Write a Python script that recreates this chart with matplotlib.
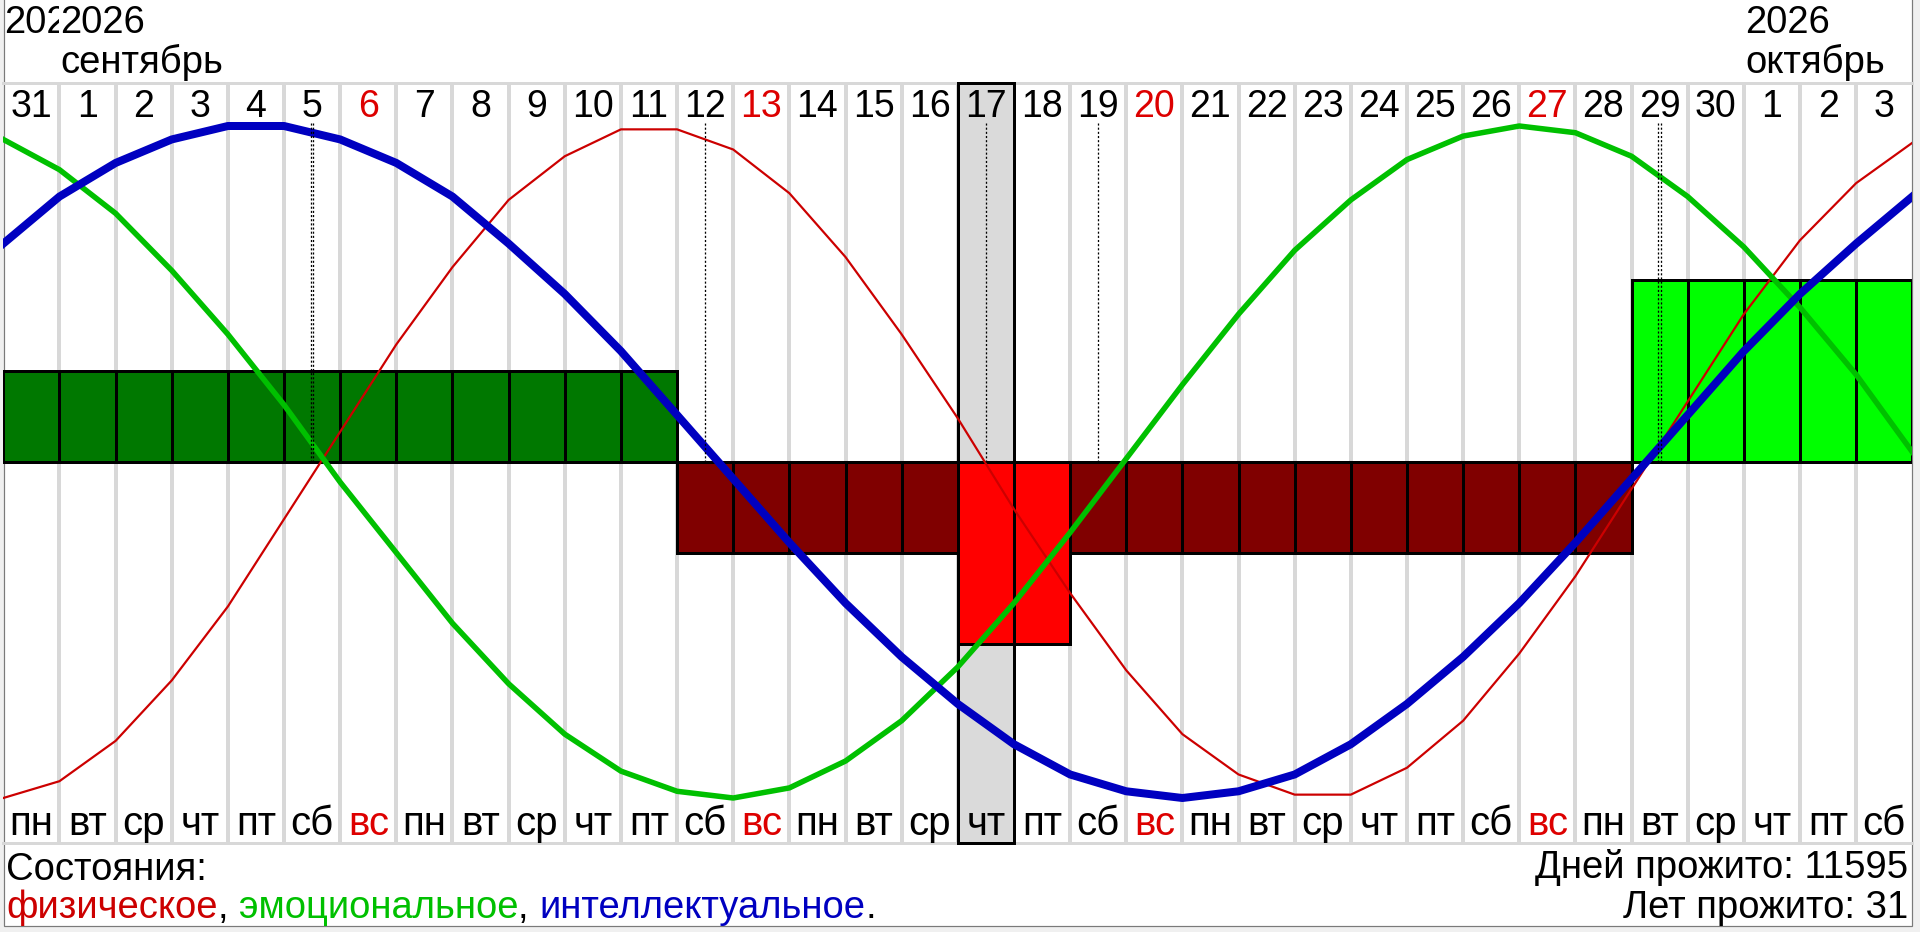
import numpy as np
import matplotlib.pyplot as plt
from matplotlib.patches import Rectangle
from matplotlib.transforms import Bbox, TransformedBbox

plt.rcParams['font.family'] = ['Liberation Sans', 'DejaVu Sans']

W, H = 1920, 932

# days shown: 31 Aug .. 3 Oct 2026
days = [31, 1, 2, 3, 4, 5, 6, 7, 8, 9, 10, 11, 12, 13, 14, 15, 16, 17,
        18, 19, 20, 21, 22, 23, 24, 25, 26, 27, 28, 29, 30, 1, 2, 3]
weekdays = ['пн', 'вт', 'ср', 'чт', 'пт', 'сб', 'вс',
            'пн', 'вт', 'ср', 'чт', 'пт', 'сб', 'вс',
            'пн', 'вт', 'ср', 'чт', 'пт', 'сб', 'вс',
            'пн', 'вт', 'ср', 'чт', 'пт', 'сб', 'вс',
            'пн', 'вт', 'ср', 'чт', 'пт', 'сб']
today = 17  # column of 17 September

# month headers: column, year, month name
head_cols = [0, 1, 31]
head_years = ['2026', '2026', '2026']
head_months = ['', 'сентябрь', 'октябрь']

# biorhythms in percent, one value per day boundary (35 points)
physical = [-100, -95, -83, -65, -43, -17, 9, 35, 58, 78, 91, 99, 99, 93,
            80, 61, 38, 13, -14, -39, -62, -81, -93, -99, -99, -91, -77,
            -57, -34, -8, 18, 44, 66, 83, 95]
emotional = [96, 87, 74, 57, 38, 17, -6, -27, -48, -66, -81, -92, -98, -100,
             -97, -89, -77, -61, -42, -21, 1, 23, 44, 63, 78, 90, 97, 100,
             98, 91, 79, 64, 46, 26, 3]
intellectual = [65, 79, 89, 96, 100, 100, 96, 89, 79, 65, 50, 33, 14, -5,
                -24, -42, -58, -72, -84, -93, -98, -100, -98, -93, -84, -72,
                -58, -42, -24, -5, 14, 33, 50, 65, 79]

# overall state per day
state = [1, 1, 1, 1, 1, 1, 1, 1, 1, 1, 1, 1, -1, -1, -1, -1, -1, -2, -2,
         -1, -1, -1, -1, -1, -1, -1, -1, -1, -1, 2, 2, 2, 2, 2]
state_colors = {2: '#00ff00', 1: '#007800', -1: '#800000', -2: '#ff0000'}

# critical days (number of curves crossing zero that day)
crit_cols = [5, 12, 17, 19, 29]
crit_count = [2, 1, 1, 1, 2]

days_lived = 11595
years_lived = 31

PX = 0.72  # points per pixel at dpi 100
amp = 336.0  # pixels for 100 %
base = 462.0
top, bottom = 83.0, 843.0


def val(ypx):
    return (base - ypx) / amp * 100


fig = plt.figure(figsize=(W / 100, H / 100), dpi=100, facecolor='#f0f0f0')
fig.patches.append(Rectangle((3.5 / W, 1 - 925.5 / H), 1908 / W, 940 / H,
                             transform=fig.transFigure, fc='white',
                             ec='#7a7a7a', lw=1.2 * PX, zorder=-5))

x0, x1 = 3.3, 1912.3
ax = fig.add_axes([x0 / W, 1 - bottom / H, (x1 - x0) / W, (bottom - top) / H])
ax.set_xlim(0, len(days))
ax.set_ylim(val(bottom), val(top))
ax.set_facecolor('none')
ax.set_xticks([])
ax.set_yticks([])
for s in ['left', 'right']:
    ax.spines[s].set_visible(False)
for s in ['top', 'bottom']:
    ax.spines[s].set_color('#d8d8d8')
    ax.spines[s].set_linewidth(3 * PX)
    ax.spines[s].set_zorder(1)

# column separators
for k in range(1, len(days)):
    ax.axvline(k, color='#d8d8d8', lw=4 * PX, zorder=1)

# highlighted day
ax.add_patch(Rectangle((today, 0), 1, 1, transform=ax.get_xaxis_transform(),
                       fc='#dadada', ec='black', lw=3 * PX, zorder=2.7,
                       clip_on=False))

# state bars
unit = 91 / amp * 100
xs = np.arange(len(days)) + 0.5
ax.bar(xs, np.array(state) * unit, width=1,
       color=[state_colors[s] for s in state], edgecolor='black',
       linewidth=3 * PX, zorder=3)

# curves
kx = np.arange(len(physical))
ax.plot(kx, physical, color='#cc0000', lw=2.2 * PX, zorder=4)
ax.plot(kx, emotional, color='#00c000', lw=5.5 * PX, zorder=5)
ax.plot(kx, intellectual, color='#0000c0', lw=8 * PX, zorder=6)

# critical day markers
shift = 1.3 / 56.17
for c, n in zip(crit_cols, crit_count):
    offs = [0.0] if n == 1 else [-shift, shift]
    for o in offs:
        ax.plot([c + 0.5 + o] * 2, [val(123), 0], color='black',
                lw=1.3 * PX, dashes=(1.6, 1.6), zorder=7)

# day numbers and weekdays
for i, (d, w) in enumerate(zip(days, weekdays)):
    col = '#dd0000' if w == 'вс' else 'black'
    ax.text(i + 0.5, val(117), str(d), ha='center', va='baseline',
            fontsize=27, color=col, zorder=8)
    ax.text(i + 0.5, val(835), w, ha='center', va='baseline',
            fontsize=29, color=col, zorder=8)

# month headers
for j, (c, y, m) in enumerate(zip(head_cols, head_years, head_months)):
    end = head_cols[j + 1] if j + 1 < len(head_cols) else len(days)
    clip = TransformedBbox(Bbox([[c, -500], [end, 500]]), ax.transData)
    for txt, yb in [(y, 33), (m, 73)]:
        t = ax.text(c + 0.02, val(yb), txt, ha='left', va='baseline',
                    fontsize=27.5, color='black')
        if c == 0:
            t.set_clip_box(clip)
            t.set_clip_on(True)


def fpos(x, y):
    return x / W, 1 - y / H


# legend of states
fs = 27.5
fig.text(*fpos(6, 880), 'Состояния:', fontsize=fs, va='baseline')
r = fig.canvas.get_renderer()
xpos = 6
for txt, col in [('физическое', '#cc0000'), (', ', 'black'),
                 ('эмоциональное', '#00c000'), (', ', 'black'),
                 ('интеллектуальное', '#0000c0'), ('.', 'black')]:
    t = fig.text(*fpos(xpos, 918), txt, fontsize=fs, color=col,
                 va='baseline')
    xpos += t.get_window_extent(r).width

fig.text(*fpos(1908, 878), f'Дней прожито: {days_lived}', fontsize=fs,
         ha='right', va='baseline')
fig.text(*fpos(1908, 918), f'Лет прожито: {years_lived}', fontsize=fs,
         ha='right', va='baseline')

fig.savefig('out.png', dpi=100, facecolor=fig.get_facecolor())
